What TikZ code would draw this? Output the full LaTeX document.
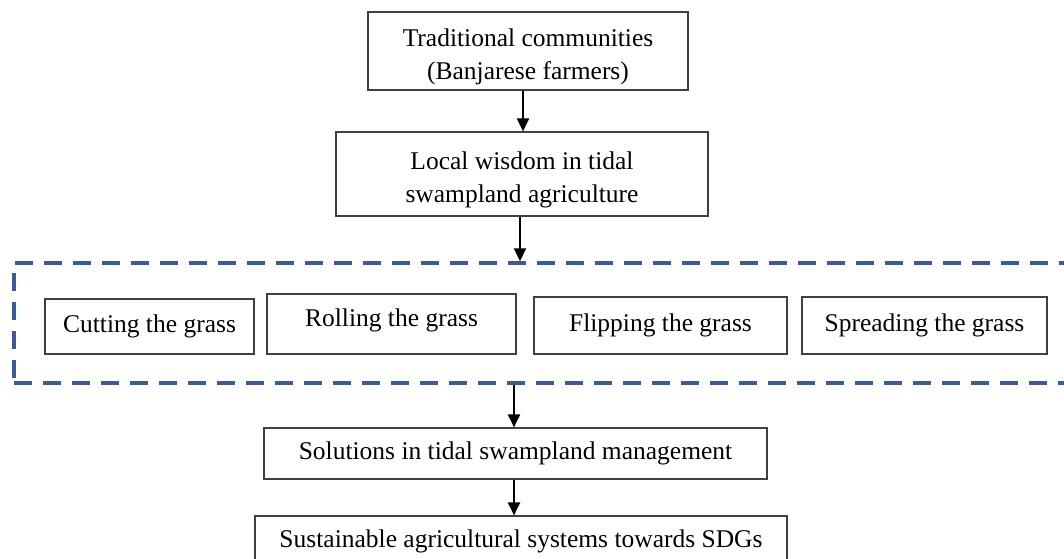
\documentclass[tikz,border=0pt]{standalone}
\usepackage{fontspec}
\setmainfont{Liberation Serif}
\usetikzlibrary{arrows.meta,calc}
\definecolor{dashblue}{HTML}{3B5B98}
\definecolor{boxline}{HTML}{404040}
\tikzset{
  box/.style={draw=boxline, line width=1.2pt, fill=white, inner sep=0pt, align=center,
              font=\fontsize{25.5}{33}\selectfont},
  arr/.style={draw=black, line width=2pt, -{Triangle[length=13pt,width=12pt]}},
  grpframe/.style={draw=dashblue, line width=3.5pt, dash pattern=on 18pt off 11pt, inner sep=0pt}
}
\begin{document}
\begin{tikzpicture}[x=1pt,y=-1pt]
\useasboundingbox (0,0) rectangle (1064,558);
\clip (0,0) rectangle (1064,558);
\fill[white] (0,0) rectangle (1064,558);
\node[box, minimum width=320pt, minimum height=78pt] (b1) at (528,51)
  {\rule{0pt}{30pt}Traditional communities\\(Banjarese farmers)};
\node[box, minimum width=372pt, minimum height=84pt] (b2) at (522,174)
  {\rule{0pt}{29pt}Local wisdom in tidal\\swampland agriculture};
\node[grpframe, minimum width=1066pt, minimum height=120pt] (grp) at (547,323) {};
\node[box, minimum width=209pt, minimum height=55pt] (cut) at (149.5,326.5) {Cutting the grass};
\node[box, minimum width=249pt, minimum height=60pt, text depth=12pt] (roll) at (391.5,324) {Rolling the grass};
\node[box, minimum width=253pt, minimum height=57pt] (flip) at (660.5,325.5) {Flipping the grass};
\node[box, minimum width=245pt, minimum height=57pt] (spread) at (924.5,325.5) {Spreading the grass};
\node[box, minimum width=503pt, minimum height=51pt] (sol) at (515.5,453.5) {Solutions in tidal swampland management};
\node[box, minimum width=532pt, minimum height=52pt, text depth=6pt] (fin) at (521,542)
  {Sustainable agricultural systems towards SDGs};
\draw[arr] ([xshift=-5pt]b1.south) -- ([xshift=-5pt]b1.south |- b2.north);
\draw[arr] ([xshift=-2pt]b2.south) -- ([xshift=-2pt]b2.south |- grp.north);
\draw[arr] ([xshift=-1.5pt]sol.north |- grp.south) -- ([xshift=-1.5pt]sol.north);
\draw[arr] ([xshift=-1.5pt]sol.south) -- ([xshift=-1.5pt]sol.south |- fin.north);
\end{tikzpicture}
\end{document}
